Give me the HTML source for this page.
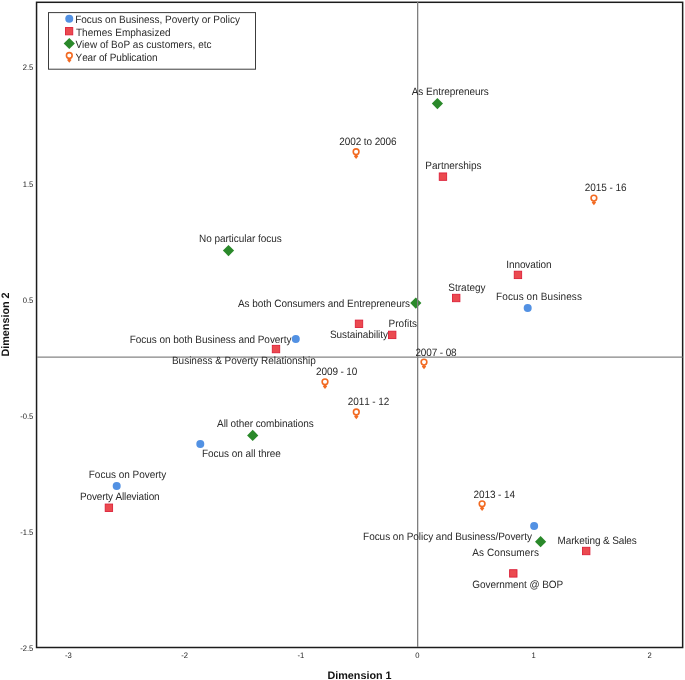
<!DOCTYPE html>
<html><head><meta charset="utf-8"><style>
html,body{margin:0;padding:0;background:#fff;width:685px;height:680px;overflow:hidden}
svg{position:absolute;left:0;top:0;display:block;will-change:transform}
text{font-family:"Liberation Sans",sans-serif;font-size:10px;fill:#2a2a2a;text-rendering:geometricPrecision;font-kerning:none}
text.tk{font-size:8px;fill:#222}
text.ax{font-size:10.8px;font-weight:bold;fill:#111}
</style></head><body>
<svg width="685" height="680" viewBox="0 0 685 680">
<rect x="36.55" y="2.3" width="646.1" height="645.2" fill="none" stroke="#1c1c1c" stroke-width="1.5"/>
<rect x="48.5" y="12.6" width="207" height="56.6" fill="#fff" stroke="#3c3c3c" stroke-width="1"/>
<circle cx="69.25" cy="18.75" r="4.0" fill="#5291E3"/>
<rect x="65.45" y="27.55" width="7.3" height="7.3" fill="#EB4A4F" stroke="#DC2039" stroke-width="0.9"/>
<path d="M69.3 37.90L74.90 43.5L69.3 49.10L63.70 43.5Z" fill="#2A892A"/>
<circle cx="69.3" cy="55.5" r="2.85" fill="none" stroke="#F26A22" stroke-width="1.6"/><path d="M68.40 58.70L70.20 58.70L71.50 60.00L69.30 62.70L67.10 60.00Z" fill="#F26A22"/>
<rect x="439.25" y="172.95" width="7.4" height="7.4" fill="#EB4A4F" stroke="#DC2039" stroke-width="0.9"/>
<rect x="514.25" y="271.20" width="7.4" height="7.4" fill="#EB4A4F" stroke="#DC2039" stroke-width="0.9"/>
<rect x="452.50" y="294.30" width="7.4" height="7.4" fill="#EB4A4F" stroke="#DC2039" stroke-width="0.9"/>
<rect x="355.30" y="320.10" width="7.4" height="7.4" fill="#EB4A4F" stroke="#DC2039" stroke-width="0.9"/>
<rect x="388.50" y="331.20" width="7.4" height="7.4" fill="#EB4A4F" stroke="#DC2039" stroke-width="0.9"/>
<rect x="272.30" y="345.35" width="7.4" height="7.4" fill="#EB4A4F" stroke="#DC2039" stroke-width="0.9"/>
<rect x="105.20" y="504.05" width="7.4" height="7.4" fill="#EB4A4F" stroke="#DC2039" stroke-width="0.9"/>
<rect x="582.50" y="547.30" width="7.4" height="7.4" fill="#EB4A4F" stroke="#DC2039" stroke-width="0.9"/>
<rect x="509.60" y="569.70" width="7.4" height="7.4" fill="#EB4A4F" stroke="#DC2039" stroke-width="0.9"/>
<circle cx="527.7" cy="308" r="4.0" fill="#5291E3"/>
<circle cx="295.8" cy="339.05" r="4.0" fill="#5291E3"/>
<circle cx="200.3" cy="444.05" r="4.0" fill="#5291E3"/>
<circle cx="116.7" cy="485.95" r="4.0" fill="#5291E3"/>
<circle cx="534.15" cy="526.1" r="4.0" fill="#5291E3"/>
<path d="M437.4 97.95L443.00 103.55L437.4 109.15L431.80 103.55Z" fill="#2A892A"/>
<path d="M228.5 245.00L234.10 250.6L228.5 256.20L222.90 250.6Z" fill="#2A892A"/>
<path d="M415.8 297.50L421.40 303.1L415.8 308.70L410.20 303.1Z" fill="#2A892A"/>
<path d="M252.7 429.80L258.30 435.4L252.7 441.00L247.10 435.4Z" fill="#2A892A"/>
<path d="M540.6 536.10L546.20 541.7L540.6 547.30L535.00 541.7Z" fill="#2A892A"/>
<circle cx="356.1" cy="151.7" r="2.85" fill="none" stroke="#F26A22" stroke-width="1.6"/><path d="M355.20 154.90L357.00 154.90L358.30 156.20L356.10 158.90L353.90 156.20Z" fill="#F26A22"/>
<circle cx="593.9" cy="198.1" r="2.85" fill="none" stroke="#F26A22" stroke-width="1.6"/><path d="M593.00 201.30L594.80 201.30L596.10 202.60L593.90 205.30L591.70 202.60Z" fill="#F26A22"/>
<circle cx="424" cy="362.1" r="2.85" fill="none" stroke="#F26A22" stroke-width="1.6"/><path d="M423.10 365.30L424.90 365.30L426.20 366.60L424.00 369.30L421.80 366.60Z" fill="#F26A22"/>
<circle cx="325" cy="381.8" r="2.85" fill="none" stroke="#F26A22" stroke-width="1.6"/><path d="M324.10 385.00L325.90 385.00L327.20 386.30L325.00 389.00L322.80 386.30Z" fill="#F26A22"/>
<circle cx="356.3" cy="412" r="2.85" fill="none" stroke="#F26A22" stroke-width="1.6"/><path d="M355.40 415.20L357.20 415.20L358.50 416.50L356.30 419.20L354.10 416.50Z" fill="#F26A22"/>
<circle cx="482.1" cy="503.8" r="2.85" fill="none" stroke="#F26A22" stroke-width="1.6"/><path d="M481.20 507.00L483.00 507.00L484.30 508.30L482.10 511.00L479.90 508.30Z" fill="#F26A22"/>
<line x1="37" y1="357.15" x2="682.5" y2="357.15" stroke="#858585" stroke-width="1.4"/>
<line x1="417.65" y1="2" x2="417.65" y2="647" stroke="#7e7e7e" stroke-width="1.3"/>
<text transform="translate(411.76,95) scale(1,1.06)" textLength="77.03" lengthAdjust="spacing">As Entrepreneurs</text>
<text transform="translate(339.32,144.9) scale(1,1.06)" textLength="57.28" lengthAdjust="spacing">2002 to 2006</text>
<text transform="translate(425.27,168.7) scale(1,1.06)" textLength="56.34" lengthAdjust="spacing">Partnerships</text>
<text transform="translate(584.82,191.4) scale(1,1.06)" textLength="41.75" lengthAdjust="spacing">2015 - 16</text>
<text transform="translate(199.07,241.8) scale(1,1.06)" textLength="82.68" lengthAdjust="spacing">No particular focus</text>
<text transform="translate(506.24,267.5) scale(1,1.06)" textLength="45.42" lengthAdjust="spacing">Innovation</text>
<text transform="translate(448.30,291.2) scale(1,1.06)" textLength="37.28" lengthAdjust="spacing">Strategy</text>
<text transform="translate(237.96,306.9) scale(1,1.06)" textLength="172.00" lengthAdjust="spacing">As both Consumers and Entrepreneurs</text>
<text transform="translate(496.07,300.3) scale(1,1.06)" textLength="85.85" lengthAdjust="spacing">Focus on Business</text>
<text transform="translate(388.57,326.8) scale(1,1.06)" textLength="28.35" lengthAdjust="spacing">Profits</text>
<text transform="translate(330.00,338.1) scale(1,1.06)" textLength="57.95" lengthAdjust="spacing">Sustainability</text>
<text transform="translate(129.67,342.5) scale(1,1.06)" textLength="161.77" lengthAdjust="spacing">Focus on both Business and Poverty</text>
<text transform="translate(171.97,363.7) scale(1,1.06)" textLength="143.90" lengthAdjust="spacing">Business &amp; Poverty Relationship</text>
<text transform="translate(415.42,355.5) scale(1,1.06)" textLength="41.21" lengthAdjust="spacing">2007 - 08</text>
<text transform="translate(316.12,375) scale(1,1.06)" textLength="41.17" lengthAdjust="spacing">2009 - 10</text>
<text transform="translate(347.82,405.2) scale(1,1.06)" textLength="41.53" lengthAdjust="spacing">2011 - 12</text>
<text transform="translate(217.06,427) scale(1,1.06)" textLength="96.65" lengthAdjust="spacing">All other combinations</text>
<text transform="translate(201.97,456.8) scale(1,1.06)" textLength="78.87" lengthAdjust="spacing">Focus on all three</text>
<text transform="translate(88.77,478.4) scale(1,1.06)" textLength="77.60" lengthAdjust="spacing">Focus on Poverty</text>
<text transform="translate(80.07,499.9) scale(1,1.06)" textLength="79.55" lengthAdjust="spacing">Poverty Alleviation</text>
<text transform="translate(473.62,497.5) scale(1,1.06)" textLength="41.43" lengthAdjust="spacing">2013 - 14</text>
<text transform="translate(363.07,539.5) scale(1,1.06)" textLength="168.85" lengthAdjust="spacing">Focus on Policy and Business/Poverty</text>
<text transform="translate(472.16,555.5) scale(1,1.06)" textLength="66.74" lengthAdjust="spacing">As Consumers</text>
<text transform="translate(557.47,543.9) scale(1,1.06)" textLength="79.26" lengthAdjust="spacing">Marketing &amp; Sales</text>
<text transform="translate(472.36,587.7) scale(1,1.06)" textLength="90.87" lengthAdjust="spacing">Government @ BOP</text>
<text transform="translate(75.17,23.0) scale(1,1.06)" textLength="164.83" lengthAdjust="spacing">Focus on Business, Poverty or Policy</text>
<text transform="translate(75.97,35.6) scale(1,1.06)" textLength="94.62" lengthAdjust="spacing">Themes Emphasized</text>
<text transform="translate(75.38,48.2) scale(1,1.06)" textLength="136.15" lengthAdjust="spacing">View of BoP as customers, etc</text>
<text transform="translate(75.59,60.8) scale(1,1.06)" textLength="81.86" lengthAdjust="spacing">Year of Publication</text>
<text class="tk" x="33.3" y="70.4" text-anchor="end" textLength="10.62" lengthAdjust="spacingAndGlyphs">2.5</text>
<text class="tk" x="33.3" y="186.5" text-anchor="end" textLength="10.62" lengthAdjust="spacingAndGlyphs">1.5</text>
<text class="tk" x="33.3" y="302.6" text-anchor="end" textLength="10.62" lengthAdjust="spacingAndGlyphs">0.5</text>
<text class="tk" x="33.3" y="418.7" text-anchor="end" textLength="13.16" lengthAdjust="spacingAndGlyphs">-0.5</text>
<text class="tk" x="33.3" y="534.8" text-anchor="end" textLength="13.16" lengthAdjust="spacingAndGlyphs">-1.5</text>
<text class="tk" x="33.3" y="650.9" text-anchor="end" textLength="13.16" lengthAdjust="spacingAndGlyphs">-2.5</text>
<text class="tk" x="68.3" y="658.2" text-anchor="middle" textLength="6.79" lengthAdjust="spacingAndGlyphs">-3</text>
<text class="tk" x="184.6" y="658.2" text-anchor="middle" textLength="6.79" lengthAdjust="spacingAndGlyphs">-2</text>
<text class="tk" x="300.9" y="658.2" text-anchor="middle" textLength="6.79" lengthAdjust="spacingAndGlyphs">-1</text>
<text class="tk" x="417.3" y="658.2" text-anchor="middle" textLength="4.25" lengthAdjust="spacingAndGlyphs">0</text>
<text class="tk" x="533.5" y="658.2" text-anchor="middle" textLength="4.25" lengthAdjust="spacingAndGlyphs">1</text>
<text class="tk" x="649.6" y="658.2" text-anchor="middle" textLength="4.25" lengthAdjust="spacingAndGlyphs">2</text>
<text class="ax" x="359.5" y="678.6" text-anchor="middle">Dimension 1</text>
<text class="ax" transform="translate(9.0,324.5) rotate(-90)" text-anchor="middle">Dimension 2</text>
</svg>
</body></html>
